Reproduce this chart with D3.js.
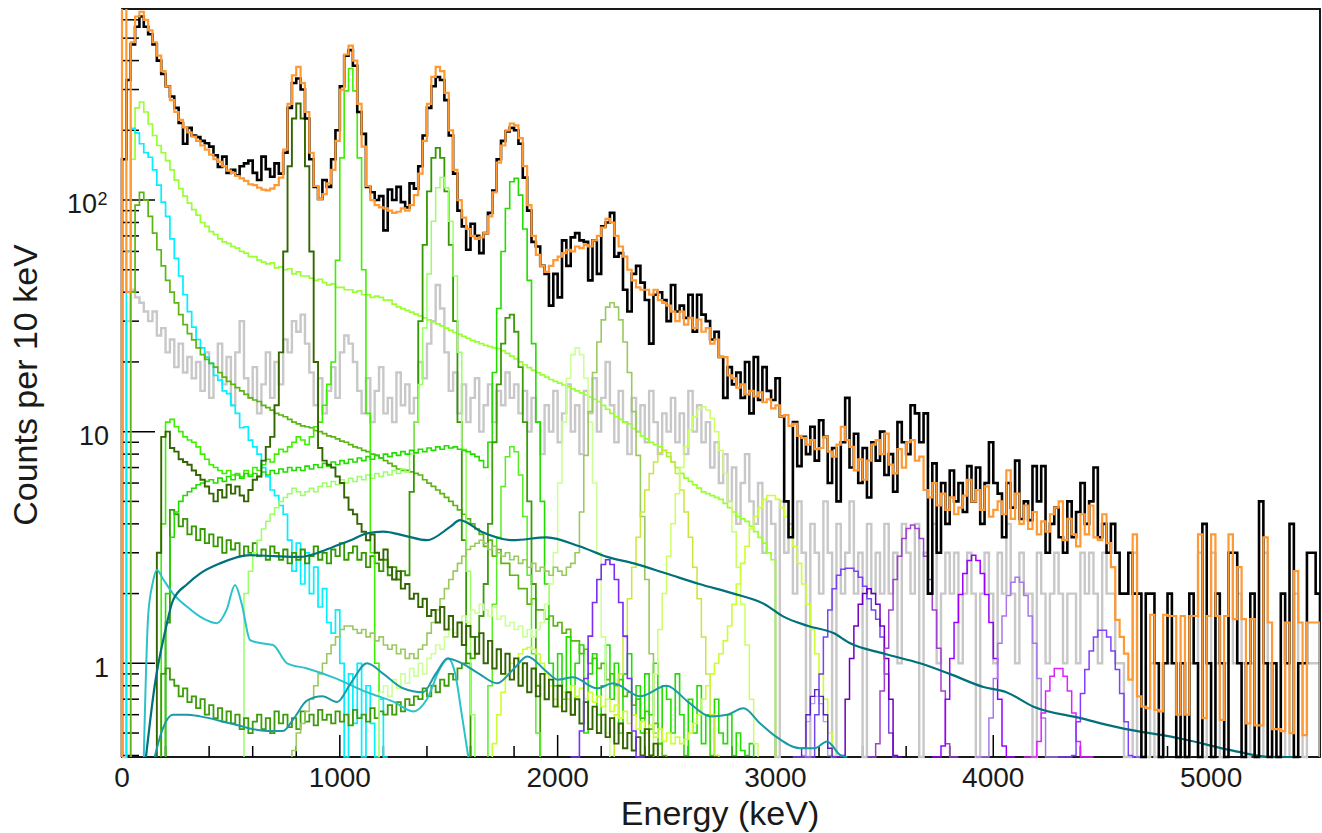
<!DOCTYPE html>
<html>
<head>
<meta charset="utf-8">
<script src="https://cdn.jsdelivr.net/npm/d3@7"></script>
<style>
body{margin:0;background:#fff}
svg{display:block}
text{font-family:"Liberation Sans",Arial,Helvetica,sans-serif;fill:#1a1a1a}
</style>
</head>
<body>
<svg id="chart" width="1322" height="833"></svg>
<script>
// all histograms use 20 keV bins, first bin starts at the given energy
const binWidth = 20;

// measured spectrum (black), bins from 0 keV
const dataCounts = [
 150,330,470,560,620,560,520,470,400,350,310,280,250,215,175,205,190,187,180,176,
 170,156,139,154,131,135,128,140,144,148,131,122,154,136,126,144,130,160,250,320,
 335,300,225,150,114,101,122,114,150,200,310,420,444,380,240,193,114,108,100,104,
 74,111,100,114,98,93,118,112,140,190,250,310,340,330,270,190,130,90,77,61,
 79,70,59,72,88,110,150,180,198,205,200,175,125,90,66,63,52,48,35,48,
 38,67,52,69,72,67,66,45,67,48,77,80,88,57,59,41,33,48,52,44,
 37,24,39,40,37,30,43,33,35,31,39,27,39,32,30,25,27,21,14,19,
 16,18,14,20,12,21,13.7,19,15,13.7,17,11.6,5,3.5,11,7.1,9.5,8,10.5,7.5,
 11.2,9.5,6,8.5,5,9,14,7,9.8,6,8.5,5.2,9,7.5,10,6.5,8,5.5,11,9,
 8,13,12,9,12,2,7.3,3,6,4,6.8,5,6,4.5,7.1,5,7,4,6,9,
 6,5.4,3.5,6,4.7,7.5,4.2,5,4.15,7.1,5,7.1,3,4,4.7,3.5,3,5,3.5,4.5,
 6,4,5,7,3.5,4,3,4,3,2,2,3,2,2,0,2,2,1,0,1,
 2,1,0,1,0,2,1,0,4,1,0,2,1,0,3,3,1,0,1,2,
 0,5,1,0,1,0,2,1,4,0,1,1,3,3,2
];

// total fit (orange)
const fitCounts = [
 3000,40,480,620,650,600,540,480,420,360,310,270,240,222,206,196,188,180,172,165,
 157,150,146,140,134,131,127,124,121,117,116,113,111,110,112,116,125,165,260,345,
 376,320,240,160,115,101,106,118,135,180,300,425,464,400,260,170,115,100,95,93,
 92,90,88,89,92,90,95,105,130,180,260,340,376,360,290,200,135,100,84,75,
 70,68,69,72,85,108,145,172,200,214,210,185,140,95,70,58,52,49,52,55,
 57,59,61,60,63,62,64,63,67,70,76,83,80,70,63,57,50,45,42,41,
 41,39,41,37,36,35,33,30,33,29,31,28,30.5,27,28,24,25,21,21,17.5,
 17,15.5,16,14.5,15,14.2,14.8,13.4,13.8,12.6,13,11.6,11.8,10.6,10.8,9.6,9.4,8.8,9.2,8.4,
 8.5,9.5,8.2,7.8,8.8,10.5,9.2,8.6,6.8,7.6,6.2,7.5,8.8,9.2,8.0,9.8,7.2,6.6,8.4,7.0,
 9.0,9.2,7.5,7.8,5.6,5.2,6.0,4.8,5.4,4.6,5.2,4.4,4.7,5.3,6.2,5.0,5.6,4.6,5.8,4.3,
 4.6,5.0,4.4,6.8,4.2,5.4,4.0,4.8,3.8,4.5,3.6,4.1,3.7,4.4,4.7,5.0,3.4,4.2,3.6,3.2,
 4.4,3.6,4.8,3.5,3.4,4.4,3.3,2.6,1.54,1.3,1.1,0.85,3.6,0.72,0.65,0.64,1.62,0.63,0.62,1.62,
 1.6,1.6,0.6,1.6,0.6,1.6,1.6,3.6,0.58,1.6,3.6,1.6,0.57,1.6,3.6,1.55,2.6,1.55,0.55,1.55,
 0.54,0.54,3.5,1.5,0.52,0.52,0.51,1.5,0.5,2.5,1.5,0.49,1.5,1.5,1.5
];

// simulated background (gray)
const bkgCounts = [
 0,30,41,38,36,33,30,33,26,28,22,25,19,24,18,21,17,20,15,22,
 14,19,24,16,21,13,22,30,17,14,19,12,16,22,14,20,16,25,22,30,
 27,32,24,18,13,17,12,15,19,14,22,26,24,20,15,12,17,11,15,19,
 12,14,11,18,13,16,12,14,20,17,24,30,43,34,22,15,18,12,16,11,
 14,17,10,13,16,11,15,13,18,14,16,12,15,10,14,11,8,13,10,15,
 9,12,16,10,13,8,15,12,17,10,14,20,13,9,15,11,8,14,10,13,
 9,15,11,8,12,10,14,9,12,8,15,10,13,9,11,7,9,6,8,5,
 7,4,6,8,5,4,6,3,5,4,0,5,3,4,2,5,3,0,4,3,
 2,5,3,0,4,2,3,5,2,3,0,4,2,3,2,4,2,3,1,4,
 3,2,4,0,3,2,4,1,2,3,2,3,1,2,3,2,0,2,3,2,
 1,3,2,4,2,1,3,2,2,0,3,2,1,2,3,2,1,2,2,1,
 3,2,3,2,1,3,2,2,1,1,0,0,3,0,0,0,1,0,0,1,
 1,1,0,1,0,1,1,3,0,1,3,1,0,1,3,1,2,1,0,1,
 0,0,3,1,0,0,0,1,0,2,1,0,1,1,1
];

// fit components
const compChartreuse = [
 150,250,265,240,213,190,172,160,148,135, 122,112,104,97,91,86,80,77,73,71,
 68,66,65,63,62,60,59,57,57,55, 54,53,53.5,51,51.5,50,50.5,48,49,47,
 47,46,45,45.5,44,43,43.5,42,42,41, 41,40,40.5,39,39,38,38.5,38,37,37,
 35.5,34.6,34,33.4,32.8,32.2,31.6,31,30.4,29.8, 29.2,28.6,28,27.4,26.8,26.3,25.8,25.3,24.8,24.4,
 24,23.6,23.3,23,22.8,22.4,21.8,21.2,20.6,20, 19.4,18.9,18.4,18,17.6,17.2,16.8,16.5,16.2,15.9,
 15.6,15.3,15,14.7,14.4,14.1,13.8,13.5,13,12.5, 12,11.6,11.3,11,10.8,10.3,10,9.6,9.3,9,
 8.8,8.6,8.3,7.8,7.4,7,6.6,6.3,6.1,5.9, 5.7,5.5,5.4,5.3,5.2,5.1,4.9,4.7,4.5,4.3,
 4.2,4.1,3.9,3.7,3.5,3.3,3.0,2.8
];
const compCyan = [
 60,204,195,175,160,153,135,116,98,85, 68,56,47,39,33,28.3,25,23,21,19.7,
 17.5,16.7,15,14.6,13,12,10.4,10.5,9.2,8.6, 8,7,6.4,5.6,5.3,4.8,4.4,3.4,2.5,3.3,
 2.2,3.0,2.0,2.6,1.75,2.1,1.5,1.35,1.7,1.0, 0,0.9,0.55,1.0,0,0.8,0.55,0,0.7,0
];
const compOlive = [
 40,95,108,100,85,72,61,52,45,40, 36,32,29,26.5,24.9,23,21.5,20.5,19.7,19,
 18,17.2,16.5,16,15.5,15,14.5,14,13.7,13.5, 13,12.7,12.4,12,11.8,11.6,11.3,11,10.8,10.6,
 10.5,10.4,10.1,10,9.8,9.6,9.5,9.3,9.1,9, 8.8,8.6,8.5,8.3,8.2,8,7.9,7.7,7.5,7.3,
 7.1,6.9,6.8,6.8,6.7,6.6,6.5,6.2,6,5.8, 5.6,5.4,5.2,5,4.8,4.6,4.4,4.2,4,3.8,
 3.6,3.2,3.4,2.9,3.1,2.7,2.7,2.4,2.4,2.1, 2.1,1.8,1.9,1.7,1.7,1.55,1.6,1.45,1.5,1.35,
 1.4,1.25,1.25,1.1,1.15,1.0,1.05,0.95,1.0,0.85, 0.9,0.8,0.85,0.72,0.75,0.66,0.7,0.58,0.62,0.52,
 0.55,0.45,0.4
];
const compDarkGreen = [
 3,9.5,10,8.5,8.2,7.6,7.4,7.2,6.8,6.5, 6.2,5.8,5.4,5,5.6,5.2,5.9,5.4,5.8,5.3,
 5,5.6,6.2,6.4,7.5,8.6,9.5,13,22,60, 140,225,261,225,140,60,20,8.5,7.5,7.2,
 7,6.4,6,5.2,4.6,4.4,4,3.7,3.4,3.6, 3,2.8,3.1,2.6,2.3,2.5,2.1,2.2,1.9,2,
 1.75,1.9,1.6,1.7,1.5,1.75,1.4,1.6,1.3,1.5, 1.2,1.45,1.3,1.1,1.35,1,1.25,0.95,1.15,0.9,
 1.1,0.85,1.05,0.8,1,0.75,0.95,0.72,0.9,0.7, 0.85,0.65,0.8,0.62,0.75,0.6,0.7,0.55,0.68,0.52,
 0.65,0.5,0.6,0.48,0.58,0.45,0.55,0.43,0.5,0.42, 0.48,0.4,0.52,0.4,0.45
];
const compGreen1460 = [
 1.5,4.6,4.4,3.9,4.2,3.6,3.9,3.4,3.8,3.3, 3.6,3.2,3.5,3,3.4,3.1,3.3,2.9,3.2,3,
 3.3,2.9,3.1,2.8,3.2,3,2.8,3.1,2.7,3, 2.8,3.1,2.7,2.9,3.2,2.8,3,2.7,3.1,2.9,
 3.3,2.8,3,3.2,2.8,3,2.6,2.9,2.7,2.5, 2.8,2.4,2.6,2.3,2.5,2.4,5.5,11,30,64,
 109,152,168,152,109,64,30,11,3.4,1
];
const compBright1050 = [
 4,11,11.3,10.5,10,9.5,9.2,9,8.6,8, 7.6,7.2,7,6.8,6.6,6.8,6.5,6.6,6.4,6.8,
 6.5,7,6.8,7.2,7.6,7.4,8,8.4,8.2,8.6, 9,9.5,9.2,8.8,9.5,10.5,11,13,16,20,
 55,152,296,370,296,152,50,12,3,1
];
const compLime1800 = [
 2,3.5,4.5,5,5.3,5.5,5.7,5.9,6,6.1, 6.2,6,6.3,6.1,6.4,6.2,6.5,6.3,6.6,6.4,
 6.6,6.4,6.7,6.5,6.8,6.6,6.9,6.7,7,6.8, 7,6.8,7.1,6.9,7.2,7,7.3,7.1,7.4,7.2,
 7.5,7.3,7.6,7.4,7.7,7.5,7.8,7.6,7.9,7.7, 8,7.8,8.1,7.9,8.2,8,8.3,8.1,8.4,8.2,
 8.5,8.3,8.6,8.4,8.7,8.5,8.6,8.4,8.3,8.2, 8,7.8,7.5,7,9,18,34,60,92,120,
 124,105,75,45,24,11,5,2.2,1,0.8, 1.1,0.7,1.3,0.6,1.0,1.2,0.5,0.9,1.1,0.6,
 0.8,1.2,0.7,1.0,0.5,0.9,1.1,0.6,0.8,0.5, 0.9,0.6,1.0,0.45,0.8,0.7,0.5,0.9,0.6,0.4,
 0.7,0.5,0.8,0.45,0.6,0.4,0.7,0.5,0.45,0.6, 0.4,0.5,0.42,0.4,0.45
];
const compLight1470 = [
 2,2.5,3,3.4,3.8,4.1,4.4,4.7,5,5.2, 5.4,5.7,5.5,5.3,5.5,5.7,5.5,5.8,6,5.8,
 6.1,5.9,6.2,6,6.3,6.1,6.4,6.2,6.5,6.3, 6.6,6.4,6.7,6.5,6.8,6.6,6.9,6.7,8,11,
 16,28,48,81,113,125,113,81,47,22, 8.4,2.5,0.6
];
const compGreen1780 = [
 0.9,0.95,0.85,0.8,0.72,0.78,0.68,0.72,0.64,0.7, 0.6,0.66,0.58,0.64,0.56,0.62,0.55,0.6,0.52,0.58,
 0.5,0.56,0.6,0.52,0.58,0.5,0.62,0.55,0.6,0.53, 0.58,0.52,0.62,0.56,0.6,0.54,0.63,0.57,0.6,0.55,
 0.62,0.56,0.6,0.54,0.63,0.58,0.6,0.56,0.64,0.58, 0.62,0.6,0.66,0.6,0.68,0.62,0.7,0.66,0.72,0.7,
 0.78,0.72,0.8,0.75,0.85,0.8,0.9,0.85,0.95,1.0, 1.1,1.05,1.3,1.6,2.2,4,9,16,24,31,
 32,27,19,11,5,2.2,0.8
];
const compSmall1800 = [0.8,1.8,3.5,5.8,7.8,8.6,8.2,6.5,4.3,2.4,1.1,0.5];
const compPale2090 = [
 0.75,0.8,0.72,0.85,0.78,0.9,0.82,0.95,0.88,1.0, 0.9,1.05,1.1,1.2,1.15,1.3,1.4,1.35,1.5,1.6,
 1.5,1.7,1.65,1.8,1.7,1.6,1.75,1.55,1.6,1.45, 1.5,1.4,1.45,1.3,1.4,1.3,1.4,1.5,1.8,2.2,
 3,6,11,17,21.5,23,21.5,17,11,6, 3,1.3,0.5
];
const compKhaki2250 = [
 0.42,0.5,0.55,0.62,0.7,0.8,0.9,1.0,1.1,1.2, 1.3,1.4,1.45,1.45,1.4,1.35,1.4,1.3,1.35,1.25,
 1.3,1.2,1.15,1.2,1.1,1.15,1.05,1.1,1.05,1.15, 1.2,1.35,1.5,1.7,1.9,2.1,2.3,2.5,2.7,2.9,
 3.1,3.2,3.3,3.4,3.3,3.1,3.2,3.0,2.9,3.0, 2.8,2.9,2.7,2.8,2.6,2.7,2.5,2.6,2.5,2.4,
 2.6,2.5,2.4,2.6,2.7,3.0,4.5,7.9,12.2,18, 24.4,30.4,34.5,36,34.5,30.4,24.4,18,12.2,7.9,
 4.3,2.3,1.1,0.5
];
const compPeak2490 = [0.6,0.9,1.3,1.9,2.6,3.5,4.5,5.6,6.6,7.4,8.1,8.3,8.1,7.4,6.6,5.6,4.5,3.5,2.6,1.9,1.3,0.9,0.6,0.4];
const compPeak2670 = [0.9,1.4,2.0,2.9,4.0,5.4,7.0,8.6,10.2,11.6,12.5,12.8,12.4,11.4,10,8.3,6.6,5.0,3.7,2.6,1.8,1.2,0.7,0.45];
const compYellow2990 = [
 0.45,0.6,0.75,0.9,1.0,1.05,1.1,1.15,1.17,1.15, 1.1,1.0,0.9,0.8,0.7,0.65,0.75,0.7,0.8,0.72,
 0.78,0.7,0.75,0.68,0.72,0.65,0.7,0.62,0.66,0.58, 0.62,0.55,0.6,0.52,0.56,0.5,0.54,0.48,0.52,0.46,
 0.5,0.45,0.48,0.45,0.47,0.5,0.55,0.6,0.7,0.8, 0.9,1.0,1.1,1.25,1.45,1.8,2.2,2.7,3.2,3.8,
 4.3,4.7,5.1,5.3,5.3,5.1,4.7,4.3,3.8,3.2, 2.7,2.2,1.8,1.4,1.1,0.9,0.7,0.5,0.4
];
const compP2230 = [0.14,0.28,0.51,0.86,1.31,1.83,2.3,2.67,2.8,2.67,2.3,1.83,1.31,0.86,0.51,0.28,0.14];
const compP3190a = [0.15,0.27,0.43,0.6,0.72,0.77,0.72,0.6,0.43,0.27,0.15];
const compP3190b = [0.14,0.25,0.4,0.56,0.67,0.72,0.67,0.56,0.4,0.25,0.14];
const compP3350 = [0.1,0.2,0.35,0.6,0.9,1.3,1.7,2.1,2.4,2.55,2.57,2.57,2.5,2.35,2.15,1.9,1.7,1.55,1.3,0.9,0.5,0.3];
const compP3430 = [0.2,0.4,0.7,1.05,1.45,1.8,2.0,2.1,2.0,1.8,1.45,1.05,0.7,0.4,0.2];
const compP3630 = [0.14,0.26,0.45,0.76,1.16,1.7,2.3,2.9,3.46,3.82,3.95,3.82,3.46,2.9,2.3,1.7,1.16,0.76,0.45,0.26,0.14];
const compP3910 = [0.13,0.24,0.44,0.7,1.05,1.5,1.98,2.44,2.78,2.93,2.78,2.44,1.98,1.5,1.05,0.7,0.44,0.24,0.13];
const compP4110 = [0.11,0.2,0.36,0.58,0.86,1.22,1.6,1.96,2.24,2.35,2.24,1.96,1.6,1.22,0.86,0.58,0.36,0.2,0.11];
const compP4300 = [0.12,0.2,0.32,0.46,0.61,0.76,0.88,0.95,0.95,0.88,0.76,0.61,0.46,0.32,0.2,0.12];
const compP4490 = [0.1,0.15,0.25,0.4,0.56,0.74,0.94,1.13,1.3,1.39,1.39,1.3,1.13,0.94,0.74,0.56,0.4,0.25,0.15];

// smooth components, [energy keV, counts]
const tealDark = [[110,0.3],[150,0.8],[200,1.4],[234,1.87],[300,2.2],[358,2.44],[450,2.7],[588,2.93],[700,2.9],[817,2.88],[900,3.0],[969,3.18],[1050,3.4],[1125,3.64],[1200,3.7],[1300,3.55],[1400,3.4],[1506,3.88],[1552,4.15],[1650,3.7],[1795,3.4],[1950,3.5],[2100,3.2],[2227,2.88],[2350,2.7],[2500,2.44],[2650,2.2],[2808,2.0],[2950,1.8],[3037,1.59],[3150,1.45],[3266,1.35],[3343,1.22],[3500,1.1],[3664,1.0],[3800,0.9],[3955,0.79],[4060,0.75],[4185,0.65],[4400,0.58],[4568,0.53],[4875,0.47],[5100,0.42],[5270,0.39],[5400,0.37]];
const tealMid = [[150,0.3],[180,0.5],[234,0.6],[300,0.6],[358,0.59],[500,0.55],[666,0.51],[739,0.51],[790,0.58],[849,0.69],[920,0.72],[987,0.68],[1050,0.82],[1125,1.0],[1200,0.9],[1290,0.78],[1382,0.75],[1440,0.9],[1495,1.05],[1560,1.0],[1640,0.9],[1722,0.82],[1800,0.95],[1860,1.07],[1950,0.92],[2000,0.85],[2071,0.87],[2181,0.78],[2255,0.82],[2378,0.72],[2500,0.8],[2600,0.68],[2700,0.59],[2778,0.6],[2853,0.64],[2930,0.55],[3006,0.48],[3113,0.43],[3180,0.43],[3237,0.46],[3300,0.4],[3330,0.3]];
const tealLight = [[100,0.3],[120,1.6],[140,2.2],[160,2.53],[190,2.3],[234,2.0],[300,1.75],[358,1.59],[436,1.49],[480,1.7],[519,2.18],[550,1.8],[588,1.26],[640,1.22],[693,1.2],[758,1.0],[850,0.95],[969,0.87],[1125,0.75],[1250,0.68],[1336,0.62],[1400,0.7],[1460,0.95],[1497,1.05],[1530,0.9],[1560,0.6],[1590,0.3]];

// axis ranges and tick labels
const energyRange = [0, 5500];
const countRange = [0.394, 668];
const xTickValues = [0, 1000, 2000, 3000, 4000, 5000];
const yTickValues = [1, 10, 100];

// drawing table built from the arrays above
const histSeries = [
  {vals: bkgCounts, from: 0, color: "#c8c8c8", w: 2.4},
  {vals: compChartreuse, from: 40, color: "#99ff33", w: 1.7},
  {vals: compCyan, from: 20, color: "#00f0ff", w: 1.7},
  {vals: compOlive, from: 40, color: "#5cb515", w: 1.7},
  {vals: compGreen1460, from: 200, color: "#339900", w: 1.8},
  {vals: compLight1470, from: 560, color: "#99ff66", w: 1.5},
  {vals: compBright1050, from: 180, color: "#3cf000", w: 1.6},
  {vals: compLime1800, from: 200, color: "#22dd00", w: 1.6},
  {vals: compGreen1780, from: 180, color: "#3c9c0a", w: 1.8},
  {vals: compSmall1800, from: 1680, color: "#55ee22", w: 1.5},
  {vals: compPale2090, from: 1180, color: "#ccff99", w: 1.6},
  {vals: compKhaki2250, from: 780, color: "#99c95f", w: 1.6},
  {vals: compPeak2490, from: 2260, color: "#c8e63c", w: 1.5},
  {vals: compPeak2670, from: 2440, color: "#ccff66", w: 1.5},
  {vals: compYellow2990, from: 1700, color: "#ccff33", w: 1.6},
  {vals: compDarkGreen, from: 160, color: "#336600", w: 1.9},
  {vals: compP2230, from: 2060, color: "#7b2cf5", w: 1.6},
  {vals: compP3190b, from: 3080, color: "#b59cff", w: 1.4},
  {vals: compP3190a, from: 3080, color: "#5522bb", w: 1.4},
  {vals: compP3350, from: 3120, color: "#7744ee", w: 1.5},
  {vals: compP3430, from: 3280, color: "#7000c0", w: 1.5},
  {vals: compP3630, from: 3420, color: "#a040d0", w: 1.5},
  {vals: compP3910, from: 3720, color: "#9a00ff", w: 1.5},
  {vals: compP4110, from: 3920, color: "#a878e8", w: 1.5},
  {vals: compP4300, from: 4140, color: "#dd22ff", w: 1.5},
  {vals: compP4490, from: 4300, color: "#8040ff", w: 1.5}
];
const curveSeries = [
  {pts: tealLight, color: "#2cc2ca", w: 2},
  {pts: tealMid, color: "#1a99a6", w: 2},
  {pts: tealDark, color: "#00707a", w: 2.2}
];

const svg = d3.select("#chart");
const frameL = 122, frameR = 1320, frameT = 9, frameB = 757;

const x = d3.scaleLinear().domain(energyRange).range([frameL, frameR]);
const y = d3.scaleLog().domain(countRange).range([frameB, frameT]);
const yMin = countRange[0];

// frame
svg.append("rect")
  .attr("x", frameL).attr("y", frameT)
  .attr("width", frameR - frameL).attr("height", frameB - frameT)
  .attr("fill", "none").attr("stroke", "#000").attr("stroke-width", 1.8);

// ticks (drawn inwards like ROOT)
const ticks = svg.append("g").attr("stroke", "#000").attr("stroke-width", 1.5);
d3.range(0, 5501, 200).forEach(e => {
  const len = e % 1000 === 0 ? 22 : 11;
  ticks.append("line").attr("x1", x(e)).attr("x2", x(e)).attr("y1", frameB).attr("y2", frameB - len);
});
const yMinor = [0.4,0.5,0.6,0.7,0.8,0.9,2,3,4,5,6,7,8,9,20,30,40,50,60,70,80,90,200,300,400,500,600];
yMinor.forEach(v => {
  ticks.append("line").attr("x1", frameL).attr("x2", frameL + 17).attr("y1", y(v)).attr("y2", y(v));
});
yTickValues.forEach(v => {
  ticks.append("line").attr("x1", frameL).attr("x2", frameL + 33).attr("y1", y(v)).attr("y2", y(v));
});

// tick labels
svg.append("g").selectAll("text").data(xTickValues).join("text")
  .attr("x", d => x(d)).attr("y", 787)
  .attr("text-anchor", "middle").attr("font-size", 28)
  .text(d => d);
yTickValues.forEach(v => {
  if (v === 100) {
    svg.append("text").attr("x", 97).attr("y", y(v) + 13).attr("text-anchor", "end")
      .attr("font-size", 27).text("10");
    svg.append("text").attr("x", 97.5).attr("y", y(v) + 5).attr("font-size", 18).text("2");
  } else {
    svg.append("text").attr("x", 109).attr("y", y(v) + 13.5).attr("text-anchor", "end")
      .attr("font-size", 27).text(v);
  }
});

// axis titles
svg.append("text").attr("x", 720).attr("y", 825).attr("text-anchor", "middle")
  .attr("font-size", 34).text("Energy (keV)");
svg.append("text").attr("transform", "translate(37,385) rotate(-90)")
  .attr("text-anchor", "middle").attr("font-size", 34).text("Counts per 10 keV");

// plot area
svg.append("clipPath").attr("id", "plotclip").append("rect")
  .attr("x", frameL - 2).attr("y", frameT).attr("width", frameR - frameL + 2).attr("height", frameB - frameT + 2);
const plot = svg.append("g").attr("clip-path", "url(#plotclip)");

const stepLine = d3.line()
  .x(d => x(d[0]))
  .y(d => y(Math.max(d[1], yMin)))
  .curve(d3.curveStepAfter);

function histPoints(vals, from) {
  const end = from + vals.length * binWidth;
  const pts = [[from, 0]];
  vals.forEach((v, i) => pts.push([from + i * binWidth, v]));
  pts.push([end, vals[vals.length - 1]]);
  pts.push([end, 0]);
  return pts;
}

histSeries.forEach(s => {
  plot.append("path")
    .attr("d", stepLine(histPoints(s.vals, s.from)))
    .attr("fill", "none").attr("stroke", s.color).attr("stroke-width", s.w);
});

const smoothLine = d3.line()
  .x(d => x(d[0]))
  .y(d => y(Math.max(d[1], yMin)))
  .curve(d3.curveMonotoneX);

curveSeries.forEach(s => {
  plot.append("path")
    .attr("d", smoothLine(s.pts))
    .attr("fill", "none").attr("stroke", s.color).attr("stroke-width", s.w);
});

// data then fit on top
plot.append("path")
  .attr("d", stepLine(histPoints(dataCounts, 0)))
  .attr("fill", "none").attr("stroke", "#000").attr("stroke-width", 2.6);
plot.append("path")
  .attr("d", stepLine(histPoints(fitCounts, 0)))
  .attr("fill", "none").attr("stroke", "#ff9933").attr("stroke-width", 2.2);
</script>
</body>
</html>
